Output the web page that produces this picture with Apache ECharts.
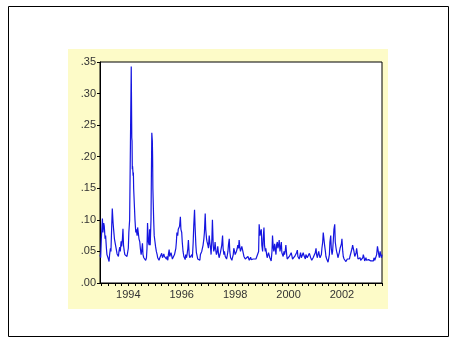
<!DOCTYPE html>
<html>
<head>
<meta charset="utf-8">
<script src="https://cdn.jsdelivr.net/npm/echarts@6/dist/echarts.min.js"></script>
<style>
html,body{margin:0;padding:0;background:#fff;}
#c{width:457px;height:364px;}
</style>
</head>
<body>
<div id="c"></div>
<script>
// Time (decimal years) of each observation
const dates = [
1992.94,1992.965,1992.99,1993.03,1993.05,1993.08,1993.10,1993.13,1993.15,1993.18,1993.20,1993.24,1993.28,1993.30,1993.33,1993.35,1993.38,1993.40,1993.43,1993.45,
1993.48,1993.50,1993.53,1993.55,1993.58,1993.60,1993.63,1993.65,1993.68,1993.70,1993.73,1993.75,1993.78,1993.80,1993.82,1993.85,1993.87,1993.90,1993.92,1993.95,
1993.97,1994.00,1994.02,1994.05,1994.08,1994.10,1994.11,1994.13,1994.14,1994.15,1994.16,1994.18,1994.19,1994.20,1994.23,1994.25,1994.28,1994.30,1994.33,1994.35,
1994.38,1994.40,1994.43,1994.45,1994.48,1994.50,1994.53,1994.55,1994.58,1994.60,1994.63,1994.65,1994.68,1994.70,1994.72,1994.75,1994.78,1994.80,1994.82,1994.85,
1994.86,1994.88,1994.89,1994.90,1994.91,1994.92,1994.95,1994.97,1995.00,1995.02,1995.05,1995.08,1995.10,1995.13,1995.15,1995.18,1995.20,1995.23,1995.25,1995.28,
1995.30,1995.33,1995.35,1995.38,1995.40,1995.43,1995.45,1995.48,1995.50,1995.53,1995.55,1995.58,1995.60,1995.63,1995.65,1995.68,1995.70,1995.73,1995.75,1995.78,
1995.80,1995.82,1995.85,1995.87,1995.90,1995.92,1995.95,1995.97,1996.00,1996.02,1996.05,1996.08,1996.10,1996.13,1996.15,1996.18,1996.20,1996.23,1996.25,1996.28,
1996.30,1996.33,1996.35,1996.38,1996.40,1996.43,1996.45,1996.48,1996.50,1996.53,1996.55,1996.58,1996.60,1996.63,1996.65,1996.68,1996.70,1996.73,1996.75,1996.78,
1996.80,1996.83,1996.85,1996.88,1996.90,1996.93,1996.95,1996.98,1997.00,1997.03,1997.05,1997.08,1997.10,1997.13,1997.15,1997.18,1997.20,1997.23,1997.25,1997.28,
1997.30,1997.33,1997.35,1997.38,1997.40,1997.43,1997.45,1997.48,1997.50,1997.53,1997.55,1997.58,1997.60,1997.63,1997.65,1997.68,1997.70,1997.73,1997.75,1997.78,
1997.80,1997.83,1997.85,1997.88,1997.90,1997.93,1997.95,1997.98,1998.00,1998.03,1998.05,1998.08,1998.10,1998.13,1998.15,1998.18,1998.20,1998.23,1998.25,1998.28,
1998.30,1998.33,1998.35,1998.38,1998.40,1998.43,1998.45,1998.48,1998.50,1998.53,1998.55,1998.58,1998.60,1998.63,1998.65,1998.68,1998.70,1998.73,1998.75,1998.78,
1998.80,1998.83,1998.85,1998.88,1998.90,1998.93,1998.95,1998.98,1999.00,1999.03,1999.05,1999.08,1999.10,1999.13,1999.15,1999.18,1999.20,1999.23,1999.25,1999.28,
1999.30,1999.33,1999.35,1999.38,1999.40,1999.43,1999.45,1999.48,1999.50,1999.53,1999.55,1999.58,1999.60,1999.63,1999.65,1999.68,1999.70,1999.73,1999.75,1999.78,
1999.80,1999.83,1999.85,1999.88,1999.90,1999.93,1999.95,1999.98,2000.00,2000.03,2000.05,2000.08,2000.10,2000.13,2000.15,2000.18,2000.20,2000.23,2000.25,2000.28,
2000.30,2000.33,2000.35,2000.38,2000.40,2000.43,2000.45,2000.48,2000.50,2000.53,2000.55,2000.58,2000.60,2000.63,2000.65,2000.68,2000.70,2000.73,2000.75,2000.78,
2000.80,2000.83,2000.85,2000.87,2000.90,2000.92,2000.95,2000.97,2001.00,2001.03,2001.05,2001.08,2001.10,2001.13,2001.15,2001.18,2001.20,2001.23,2001.25,2001.28,
2001.30,2001.33,2001.35,2001.38,2001.40,2001.43,2001.45,2001.48,2001.50,2001.53,2001.55,2001.58,2001.60,2001.63,2001.65,2001.68,2001.70,2001.73,2001.75,2001.78,
2001.80,2001.83,2001.85,2001.88,2001.90,2001.93,2001.95,2001.98,2002.00,2002.03,2002.05,2002.08,2002.10,2002.13,2002.15,2002.18,2002.20,2002.23,2002.25,2002.28,
2002.30,2002.33,2002.35,2002.38,2002.40,2002.43,2002.45,2002.48,2002.50,2002.53,2002.55,2002.58,2002.60,2002.63,2002.65,2002.68,2002.70,2002.73,2002.75,2002.78,
2002.80,2002.83,2002.85,2002.87,2002.90,2002.92,2002.95,2002.97,2003.00,2003.03,2003.05,2003.08,2003.10,2003.13,2003.15,2003.18,2003.20,2003.23,2003.25,2003.28,
2003.30,2003.33,2003.35,2003.38,2003.40,2003.43,2003.45,2003.48,2003.50
];
// Series values
const values = [
0.045,0.040,0.070,0.102,0.080,0.095,0.090,0.070,0.075,0.055,0.045,0.040,0.034,0.045,0.055,0.050,0.092,0.118,0.095,0.085,
0.070,0.072,0.058,0.060,0.046,0.045,0.042,0.050,0.057,0.050,0.066,0.058,0.070,0.086,0.060,0.050,0.045,0.043,0.047,0.042,
0.045,0.055,0.080,0.100,0.222,0.225,0.343,0.230,0.225,0.180,0.185,0.170,0.175,0.150,0.120,0.100,0.080,0.085,0.075,0.088,
0.089,0.070,0.065,0.055,0.045,0.050,0.063,0.045,0.040,0.042,0.038,0.036,0.040,0.055,0.095,0.065,0.060,0.085,0.060,0.100,
0.150,0.238,0.240,0.225,0.200,0.150,0.100,0.075,0.065,0.058,0.050,0.045,0.040,0.038,0.036,0.040,0.038,0.043,0.047,0.040,
0.037,0.046,0.042,0.040,0.044,0.038,0.042,0.036,0.045,0.053,0.042,0.040,0.048,0.042,0.038,0.035,0.040,0.045,0.042,0.055,
0.065,0.080,0.075,0.085,0.088,0.090,0.105,0.085,0.080,0.065,0.050,0.042,0.040,0.037,0.045,0.040,0.045,0.055,0.068,0.045,
0.040,0.038,0.042,0.045,0.040,0.065,0.090,0.116,0.090,0.060,0.048,0.042,0.038,0.036,0.040,0.036,0.045,0.042,0.050,0.048,
0.060,0.070,0.080,0.110,0.085,0.070,0.065,0.060,0.055,0.075,0.065,0.055,0.045,0.070,0.100,0.060,0.050,0.055,0.065,0.050,
0.045,0.050,0.058,0.045,0.040,0.042,0.048,0.045,0.060,0.075,0.055,0.045,0.050,0.042,0.040,0.038,0.042,0.050,0.060,0.070,
0.050,0.040,0.038,0.036,0.040,0.045,0.055,0.050,0.045,0.042,0.050,0.055,0.060,0.055,0.068,0.055,0.050,0.048,0.058,0.052,
0.048,0.042,0.040,0.038,0.037,0.040,0.038,0.042,0.040,0.036,0.038,0.041,0.037,0.039,0.036,0.038,0.035,0.037,0.036,0.038,
0.035,0.037,0.036,0.050,0.093,0.075,0.080,0.085,0.060,0.050,0.070,0.088,0.060,0.050,0.055,0.045,0.040,0.042,0.048,0.045,
0.040,0.038,0.035,0.050,0.075,0.055,0.050,0.062,0.055,0.045,0.060,0.065,0.055,0.060,0.068,0.050,0.055,0.065,0.048,0.045,
0.042,0.050,0.045,0.052,0.060,0.045,0.038,0.040,0.038,0.042,0.040,0.045,0.048,0.042,0.038,0.040,0.037,0.042,0.045,0.040,
0.048,0.052,0.042,0.040,0.038,0.044,0.048,0.040,0.038,0.042,0.048,0.043,0.040,0.038,0.045,0.042,0.040,0.037,0.040,0.047,
0.044,0.040,0.038,0.036,0.038,0.040,0.037,0.042,0.048,0.055,0.045,0.040,0.045,0.050,0.045,0.040,0.038,0.045,0.055,0.065,
0.080,0.079,0.060,0.050,0.042,0.038,0.035,0.033,0.032,0.045,0.065,0.075,0.055,0.045,0.050,0.070,0.085,0.093,0.065,0.055,
0.050,0.045,0.040,0.042,0.048,0.055,0.058,0.062,0.070,0.050,0.042,0.038,0.035,0.037,0.034,0.036,0.038,0.036,0.040,0.038,
0.042,0.040,0.045,0.055,0.060,0.058,0.050,0.042,0.040,0.048,0.055,0.045,0.038,0.035,0.037,0.040,0.036,0.033,0.035,0.040,
0.045,0.040,0.035,0.037,0.040,0.036,0.038,0.035,0.037,0.040,0.038,0.035,0.037,0.036,0.038,0.035,0.040,0.036,0.038,0.035,
0.045,0.058,0.055,0.045,0.040,0.050,0.045,0.040,0.045
];
const yearLabels = [1994, 1996, 1998, 2000, 2002];
const quarterTicks = [];
for (let q = 1993; q <= 2003.5; q += 0.25) quarterTicks.push(q);

const seriesData = dates.map((d, i) => [d, values[i]]);

const chart = echarts.init(document.getElementById('c'), null, {renderer: 'canvas'});
chart.setOption({
  animation: false,
  backgroundColor: '#ffffff',
  graphic: [
    {type: 'rect', z: -10, shape: {x: 8.5, y: 6.5, width: 440, height: 330}, style: {fill: '#ffffff', stroke: '#000000', lineWidth: 1}},
    {type: 'rect', z: -5, shape: {x: 68, y: 49, width: 320, height: 260}, style: {fill: '#fdfbc8'}}
  ],
  grid: {left: 100, right: 75, top: 62, bottom: 81, show: true, backgroundColor: '#ffffff', borderColor: '#000000', borderWidth: 1},
  xAxis: {
    type: 'value', min: 1992.94, max: 2003.5,
    splitLine: {show: false},
    axisLine: {lineStyle: {color: '#000'}},
    axisTick: {customValues: quarterTicks, length: 3, lineStyle: {color: '#000'}},
    axisLabel: {customValues: yearLabels, color: '#333', fontFamily: 'Liberation Sans', fontSize: 11, margin: 6, formatter: v => String(Math.round(v))}
  },
  yAxis: {
    type: 'value', min: 0, max: 0.35, interval: 0.05,
    splitLine: {show: false},
    axisLine: {show: true, lineStyle: {color: '#000'}},
    axisTick: {show: true, length: 3, lineStyle: {color: '#000'}},
    axisLabel: {color: '#333', fontFamily: 'Liberation Sans', fontSize: 11, margin: 4, formatter: v => '.' + String(Math.round(v * 100)).padStart(2, '0')}
  },
  series: [{
    type: 'line', data: seriesData, showSymbol: false, symbol: 'none',
    lineStyle: {color: '#1515e0', width: 1.2}
  }]
});
</script>
</body>
</html>
